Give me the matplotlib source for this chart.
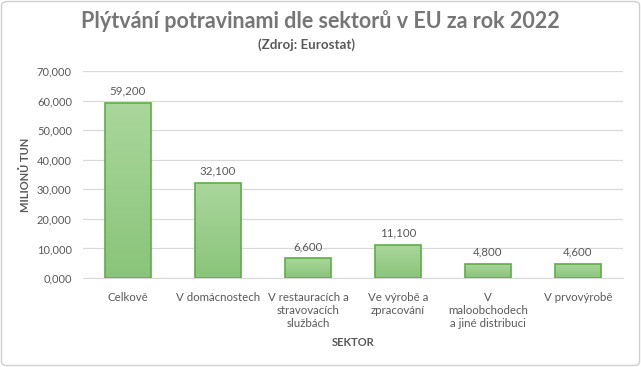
import matplotlib
matplotlib.use("Agg")
import matplotlib.pyplot as plt
import numpy as np
from matplotlib.patches import FancyBboxPatch
from matplotlib.colors import LinearSegmentedColormap

categories = ["Celkově", "V domácnostech", "V restauracích a\nstravovacích\nslužbách",
              "Ve výrobě a\nzpracování", "V\nmaloobchodech\na jiné distribuci", "V prvovýrobě"]
values = [59200, 32100, 6600, 11100, 4800, 4600]
labels = ["59,200", "32,100", "6,600", "11,100", "4,800", "4,600"]
yticks = [0, 10000, 20000, 30000, 40000, 50000, 60000, 70000]
yticklabels = ["0,000", "10,000", "20,000", "30,000", "40,000", "50,000", "60,000", "70,000"]

plt.rcParams['font.family'] = ['Lato', 'DejaVu Sans']
txt = "#595959"

fig = plt.figure(figsize=(6.41, 3.67), dpi=100)
ax = fig.add_axes([83/641, 1 - 278/367, 540/641, 207/367])

x = np.arange(len(values))
bars = ax.bar(x, values, width=0.51, facecolor="none", edgecolor="#5eae47", linewidth=1.2, zorder=3)
cmap = LinearSegmentedColormap.from_list("g", ["#8ac47a", "#aad79c"])
grad = np.linspace(0, 1, 256).reshape(-1, 1)
for b in bars:
    x0, y0 = b.get_x(), b.get_y()
    w, h = b.get_width(), b.get_height()
    im = ax.imshow(grad, cmap=cmap, origin="lower", aspect="auto",
                   extent=[x0, x0 + w, y0, y0 + h], zorder=2)
    im.set_clip_path(b)

for xi, v, l in zip(x, values, labels):
    ax.text(xi, v + 2200, l, ha="center", va="bottom", fontsize=8.3, color=txt)

ax.set_xlim(-0.5, len(values) - 0.5)
ax.set_ylim(0, 70000)
ax.set_yticks(yticks)
ax.set_yticklabels(yticklabels, fontsize=8, color=txt)
ax.set_xticks(x)
ax.set_xticklabels(categories, fontsize=8.3, color=txt, linespacing=1.25, va="top")
ax.tick_params(axis="both", length=0, pad=8)
ax.tick_params(axis="x", pad=10)
ax.grid(axis="y", color="#d9d9d9", linewidth=0.9, zorder=0)
ax.set_axisbelow(True)
for s in ax.spines.values():
    s.set_visible(False)
ax.spines["bottom"].set_visible(True)
ax.spines["bottom"].set_color("#d9d9d9")

fig.text(26/641, 1 - 175/367, "MILIONŮ TUN", rotation=90, ha="center", va="center",
         fontsize=8, fontweight="bold", color=txt)
fig.text(353/641, 1 - 343/367, "SEKTOR", ha="center", va="center",
         fontsize=8, fontweight="bold", color=txt)
fig.text(320/641, 1 - 21/367, "Plýtvání potravinami dle sektorů v EU za rok 2022", ha="center",
         va="center", fontsize=15.5, fontweight="bold", color="#767676")
fig.text(306/641, 1 - 45/367, "(Zdroj: Eurostat)", ha="center", va="center",
         fontsize=9.6, fontweight="bold", color=txt)

border = FancyBboxPatch((1.5/641, 1.5/367), 1 - 3/641, 1 - 3/367, boxstyle="round,pad=0,rounding_size=0.01",
                        transform=fig.transFigure, facecolor="none", edgecolor="#d0d0d0", linewidth=1)
fig.patches.append(border)

fig.savefig("out.png", dpi=100)
